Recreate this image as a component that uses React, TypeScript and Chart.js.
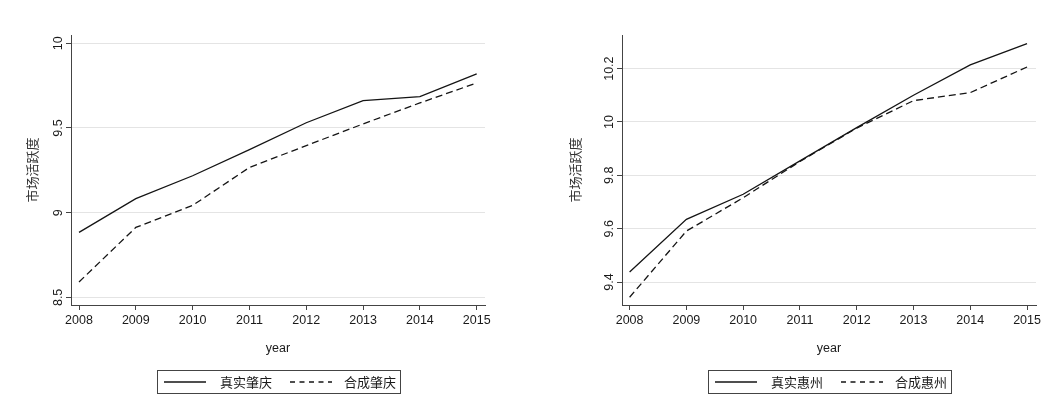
import { useEffect, useRef } from "react";
import { Chart, registerables } from "chart.js";

Chart.register(...registerables);

// ---------- data ----------
const years = [2008, 2009, 2010, 2011, 2012, 2013, 2014, 2015];

const zhaoqingReal = [8.884, 9.083, 9.218, 9.372, 9.531, 9.661, 9.685, 9.819];
const zhaoqingSynth = [8.591, 8.913, 9.043, 9.267, 9.396, 9.524, 9.648, 9.766];

const huizhouReal = [9.438, 9.635, 9.729, 9.854, 9.979, 10.1, 10.214, 10.294];
const huizhouSynth = [9.343, 9.591, 9.716, 9.852, 9.977, 10.08, 10.11, 10.206];

const leftYTicks = [8.5, 9, 9.5, 10];
const rightYTicks = [9.4, 9.6, 9.8, 10, 10.2];

const leftLabels = ["真实肇庆", "合成肇庆"];
const rightLabels = ["真实惠州", "合成惠州"];

const yTitle = "市场活跃度";
const xTitle = "year";

// ---------- styles ----------
const SANS = "'Liberation Sans', Arial, sans-serif";
const CJK = "'Noto Sans CJK SC', 'Noto Sans', sans-serif";
const LINE = "#141414";
const AXIS = "#444444";
const GRID = "#e4e4e4";
const TEXT = "#1a1a1a";

const yTickPlugin = {
  id: "rotatedYTicks",
  afterDraw(chart: any) {
    const scale = chart.scales.y;
    const { ctx, chartArea } = chart;
    ctx.save();
    ctx.fillStyle = TEXT;
    ctx.font = `12.5px ${SANS}`;
    ctx.textAlign = "center";
    ctx.textBaseline = "alphabetic";
    for (const t of scale.ticks) {
      const y = scale.getPixelForValue(t.value);
      const x = chartArea.left - 9;
      ctx.save();
      ctx.translate(x, y);
      ctx.rotate(-Math.PI / 2);
      ctx.fillText(String(t.value), 0, 0);
      ctx.restore();
    }
    ctx.restore();
  },
};

const boxLegendPlugin = {
  id: "boxLegend",
  afterDraw(chart: any) {
    const { ctx, chartArea } = chart;
    const ds = chart.data.datasets;
    ctx.save();
    ctx.font = `13px ${CJK}`;
    const w0 = ctx.measureText(ds[0].label).width;
    const w1 = ctx.measureText(ds[1].label).width;
    const lineLen = 42;
    const total = 6.5 + lineLen + 14 + w0 + 18 + lineLen + 12 + w1 + 4;
    const cx = (chartArea.left + chartArea.right) / 2;
    const x0 = Math.round(cx - total / 2) + 0.5;
    const top = 370.5;
    const h = 23;
    ctx.strokeStyle = AXIS;
    ctx.lineWidth = 1;
    ctx.strokeRect(x0, top, Math.round(total), h);
    const cy = top + h / 2;
    let x = x0 + 6.5;
    ctx.strokeStyle = LINE;
    ctx.lineWidth = 1.3;
    ctx.beginPath();
    ctx.moveTo(x, cy);
    ctx.lineTo(x + lineLen, cy);
    ctx.stroke();
    x += lineLen + 14;
    ctx.fillStyle = TEXT;
    ctx.textBaseline = "middle";
    ctx.textAlign = "left";
    ctx.fillText(ds[0].label, x, cy);
    x += w0 + 18;
    ctx.setLineDash([5, 4.5]);
    ctx.beginPath();
    ctx.moveTo(x, cy);
    ctx.lineTo(x + lineLen, cy);
    ctx.stroke();
    ctx.setLineDash([]);
    x += lineLen + 12;
    ctx.fillText(ds[1].label, x, cy);
    ctx.restore();
  },
};

type PanelCfg = {
  real: number[];
  synth: number[];
  labels: string[];
  yTicks: number[];
  yMin: number;
  yMax: number;
  xMin: number;
  xMax: number;
  yWidth: number;
  padRight: number;
  titlePad: number;
};

function Panel({ cfg, left }: { cfg: PanelCfg; left: number }) {
  const ref = useRef<HTMLCanvasElement>(null);
  useEffect(() => {
    const chart = new Chart(ref.current as HTMLCanvasElement, {
      type: "line",
      data: {
        datasets: [
          {
            label: cfg.labels[0],
            data: years.map((x, i) => ({ x, y: cfg.real[i] })),
            borderColor: LINE,
            borderWidth: 1.3,
            pointRadius: 0,
            fill: false,
            tension: 0,
          },
          {
            label: cfg.labels[1],
            data: years.map((x, i) => ({ x, y: cfg.synth[i] })),
            borderColor: LINE,
            borderWidth: 1.3,
            borderDash: [7, 4],
            pointRadius: 0,
            fill: false,
            tension: 0,
          },
        ],
      },
      options: {
        responsive: false,
        animation: false,
        layout: { padding: { left: 0, right: cfg.padRight, top: 35, bottom: 38 } },
        plugins: { legend: { display: false }, tooltip: { enabled: false } },
        scales: {
          x: {
            type: "linear",
            min: cfg.xMin,
            max: cfg.xMax,
            afterBuildTicks: (s: any) => {
              s.ticks = years.map((v) => ({ value: v }));
            },
            afterFit: (s: any) => {
              s.height = 60;
            },
            ticks: {
              callback: (v: any) => String(v),
              font: { family: SANS, size: 12.5 },
              color: TEXT,
              padding: 3,
              maxRotation: 0,
              autoSkip: false,
            },
            grid: {
              display: true,
              drawOnChartArea: false,
              drawTicks: true,
              tickLength: 5,
              color: AXIS,
              lineWidth: 1,
            },
            border: { display: true, color: AXIS, width: 1 },
            title: {
              display: true,
              text: xTitle,
              font: { family: SANS, size: 12.5 },
              color: TEXT,
              padding: { top: 0, bottom: 9 },
            },
          },
          y: {
            type: "linear",
            min: cfg.yMin,
            max: cfg.yMax,
            afterBuildTicks: (s: any) => {
              s.ticks = cfg.yTicks.map((v) => ({ value: v }));
            },
            afterFit: (s: any) => {
              s.width = cfg.yWidth;
            },
            ticks: { display: false },
            grid: {
              color: GRID,
              tickColor: AXIS,
              tickLength: 5,
              drawTicks: true,
              lineWidth: 1,
            },
            border: { display: true, color: AXIS, width: 1 },
            title: {
              display: true,
              text: yTitle,
              font: { family: CJK, size: 13 },
              color: "#333333",
              padding: { top: cfg.titlePad, bottom: 0 },
            },
          },
        },
      } as any,
      plugins: [yTickPlugin, boxLegendPlugin],
    });
    return () => chart.destroy();
  }, [cfg]);
  return (
    <canvas
      ref={ref}
      width={525}
      height={403}
      style={{ position: "absolute", left, top: 0, width: 525, height: 403 }}
    />
  );
}

const leftCfg: PanelCfg = {
  real: zhaoqingReal,
  synth: zhaoqingSynth,
  labels: leftLabels,
  yTicks: leftYTicks,
  yMin: 8.455,
  yMax: 10.049,
  xMin: 2007.859,
  xMax: 2015.146,
  yWidth: 71,
  padRight: 40,
  titlePad: 24,
};

const rightCfg: PanelCfg = {
  real: huizhouReal,
  synth: huizhouSynth,
  labels: rightLabels,
  yTicks: rightYTicks,
  yMin: 9.314,
  yMax: 10.326,
  xMin: 2007.866,
  xMax: 2015.158,
  yWidth: 97,
  padRight: 14,
  titlePad: 42,
};

export default function App() {
  return (
    <div
      style={{
        position: "fixed",
        left: 0,
        top: 0,
        width: 1050,
        height: 403,
        background: "#ffffff",
        overflow: "hidden",
      }}
    >
      <Panel cfg={leftCfg} left={0} />
      <Panel cfg={rightCfg} left={525} />
    </div>
  );
}
